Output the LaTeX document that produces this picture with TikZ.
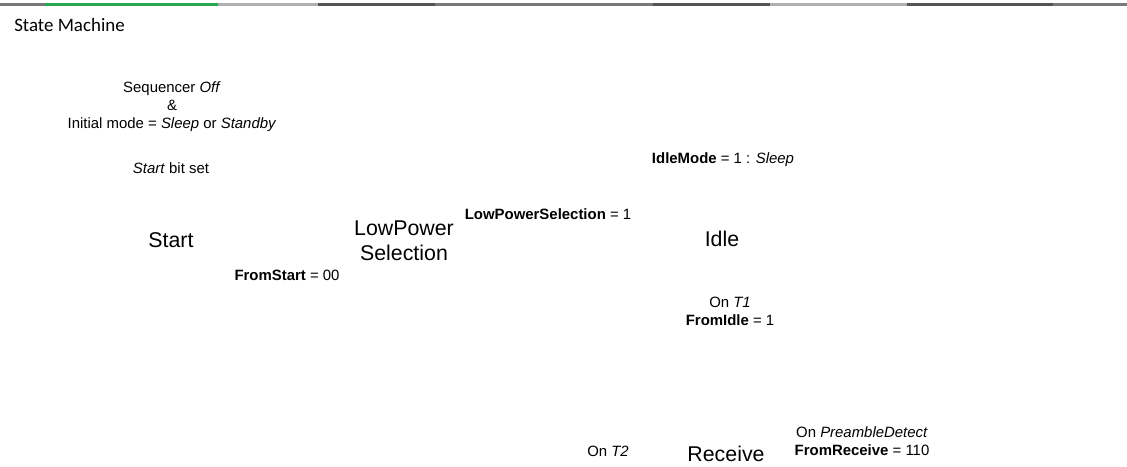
\documentclass[tikz,border=0pt]{standalone}
\usepackage{fontspec}
\setmainfont{Liberation Sans}
\newfontfamily\titlefont{Carlito}
\definecolor{barGreen}{RGB}{40,168,80}
\definecolor{barDark}{RGB}{85,85,85}
\definecolor{barMid}{RGB}{120,120,120}
\definecolor{barLight}{RGB}{175,175,175}
\tikzset{
  cond/.style={font=\fontsize{11.2}{13.5}\selectfont, align=center, inner sep=0pt},
  state/.style={font=\fontsize{16}{18.8}\selectfont, align=center, inner sep=0pt}
}
\begin{document}
\begin{tikzpicture}[x=0.75pt,y=-0.75pt]

  % Frame
  \useasboundingbox (0,0) rectangle (1127,467);

  % Top bar
  \draw[barMid, line width=1.8pt] (0,4.5) -- (1127,4.5);
  \foreach \a/\b/\c in {45/218/barGreen, 218/318/barLight, 318/435/barDark,
                        560/653/barMid, 653/770/barDark, 770/907/barLight,
                        907/1053/barDark} {
    \draw[\c, line width=1.8pt] (\a,4.5) -- (\b,4.5);
  }

  % Title
  \node[anchor=west, inner sep=0pt, font=\titlefont\fontsize{14.2}{17}\selectfont]
    (title) at (14,25) {State Machine};

  % Entry conditions
  \node[cond] (entry) at (172,107) {Sequencer \textit{Off}\\ \&\\ Initial mode = \textit{Sleep} or \textit{Standby}};
  \node[cond] (startbit) at (171,168) {\textit{Start} bit set};

  % States
  \node[state] (start) at (171,240) {Start};
  \node[state] (lowpower) at (404,241) {LowPower\\ Selection};
  \node[state] (idle) at (722,239) {Idle};
  \node[state] (receive) at (726,454) {Receive};

  % Transitions
  \node[cond] (fromstart) at (287,275) {\textbf{FromStart} = 00};
  \node[cond] (lpsel) at (548,214) {\textbf{LowPowerSelection} = 1};
  \node[cond] (idlemode) at (723,160) {\textbf{IdleMode} = 1 : \textit{Sleep}};
  \node[cond] (fromidle) at (730,311) {On \textit{T1}\\ \textbf{FromIdle} = 1};
  \node[cond] (ont2) at (608,451) {On \textit{T2}};
  \node[cond] (fromreceive) at (862,441) {On \textit{PreambleDetect}\\ \textbf{FromReceive} = 110};

\end{tikzpicture}
\end{document}
